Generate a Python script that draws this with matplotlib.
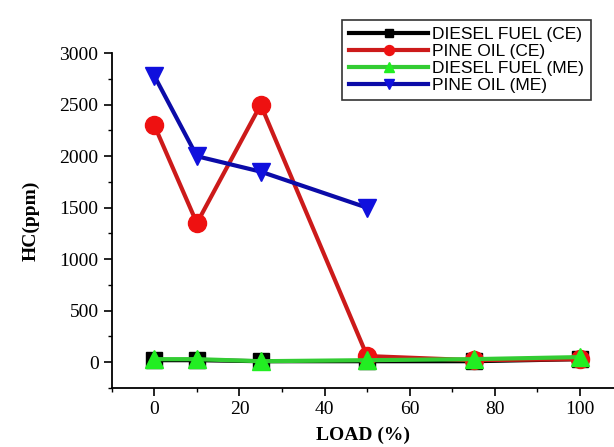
import matplotlib
matplotlib.use("Agg")
import matplotlib.pyplot as plt
from matplotlib.ticker import MultipleLocator

# HC emissions against engine load
load = [0, 10, 25, 50, 75, 100]
load_pine_me = [0, 10, 25, 50]

diesel_ce = [20, 20, 10, 10, 10, 30]
pine_ce = [2300, 1350, 2500, 60, 20, 30]
diesel_me = [30, 30, 10, 20, 30, 50]
pine_me = [2780, 2000, 1850, 1500]

fig = plt.figure(figsize=(6.14, 4.47), dpi=100)
ax = fig.add_axes([0.182, 0.132, 0.818, 0.749])

ax.plot(load, diesel_ce, color="black", lw=3, marker="s", ms=11,
        label="DIESEL FUEL (CE)")
ax.plot(load, pine_ce, color="#cc1a1a", lw=3, marker="o", ms=13,
        mfc="#ee1111", mec="#ee1111", label="PINE OIL (CE)")
ax.plot(load, diesel_me, color="#33cc33", lw=3, marker="^", ms=13,
        mfc="#22ee22", mec="#22ee22", label="DIESEL FUEL (ME)")
ax.plot(load_pine_me, pine_me, color="#0b0ba8", lw=3, marker="v", ms=13,
        mfc="#1010dd", mec="#1010dd", label="PINE OIL (ME)")

ax.set_xlim(-10, 108)
ax.set_ylim(-250, 3000)
ax.xaxis.set_major_locator(MultipleLocator(20))
ax.xaxis.set_minor_locator(MultipleLocator(10))
ax.yaxis.set_major_locator(MultipleLocator(500))
ax.yaxis.set_minor_locator(MultipleLocator(250))

for side in ["top", "right"]:
    ax.spines[side].set_visible(False)
ax.spines["left"].set_linewidth(1.3)
ax.spines["bottom"].set_linewidth(1.3)
ax.tick_params(which="major", direction="out", length=6, width=1.2,
               labelsize=14)
ax.tick_params(which="minor", direction="out", length=3, width=1.0)
for lbl in ax.get_xticklabels() + ax.get_yticklabels():
    lbl.set_fontfamily("Liberation Serif")

ax.set_xlabel("LOAD (%)", fontsize=14, fontweight="bold",
              family="Liberation Serif", labelpad=6)
ax.set_ylabel("HC(ppm)", fontsize=14, fontweight="bold",
              family="Liberation Serif", labelpad=14)

leg = fig.legend(loc="upper left", bbox_to_anchor=(333 / 614, 1 - 11 / 447),
                 frameon=True, fancybox=False, edgecolor="black",
                 prop={"family": "Liberation Sans", "size": 12.5},
                 handlelength=4.6, handletextpad=0.2, labelspacing=0.12,
                 borderpad=0.4, markerscale=0.55)
leg.get_frame().set_linewidth(1.2)

fig.savefig("out.png", dpi=100)
